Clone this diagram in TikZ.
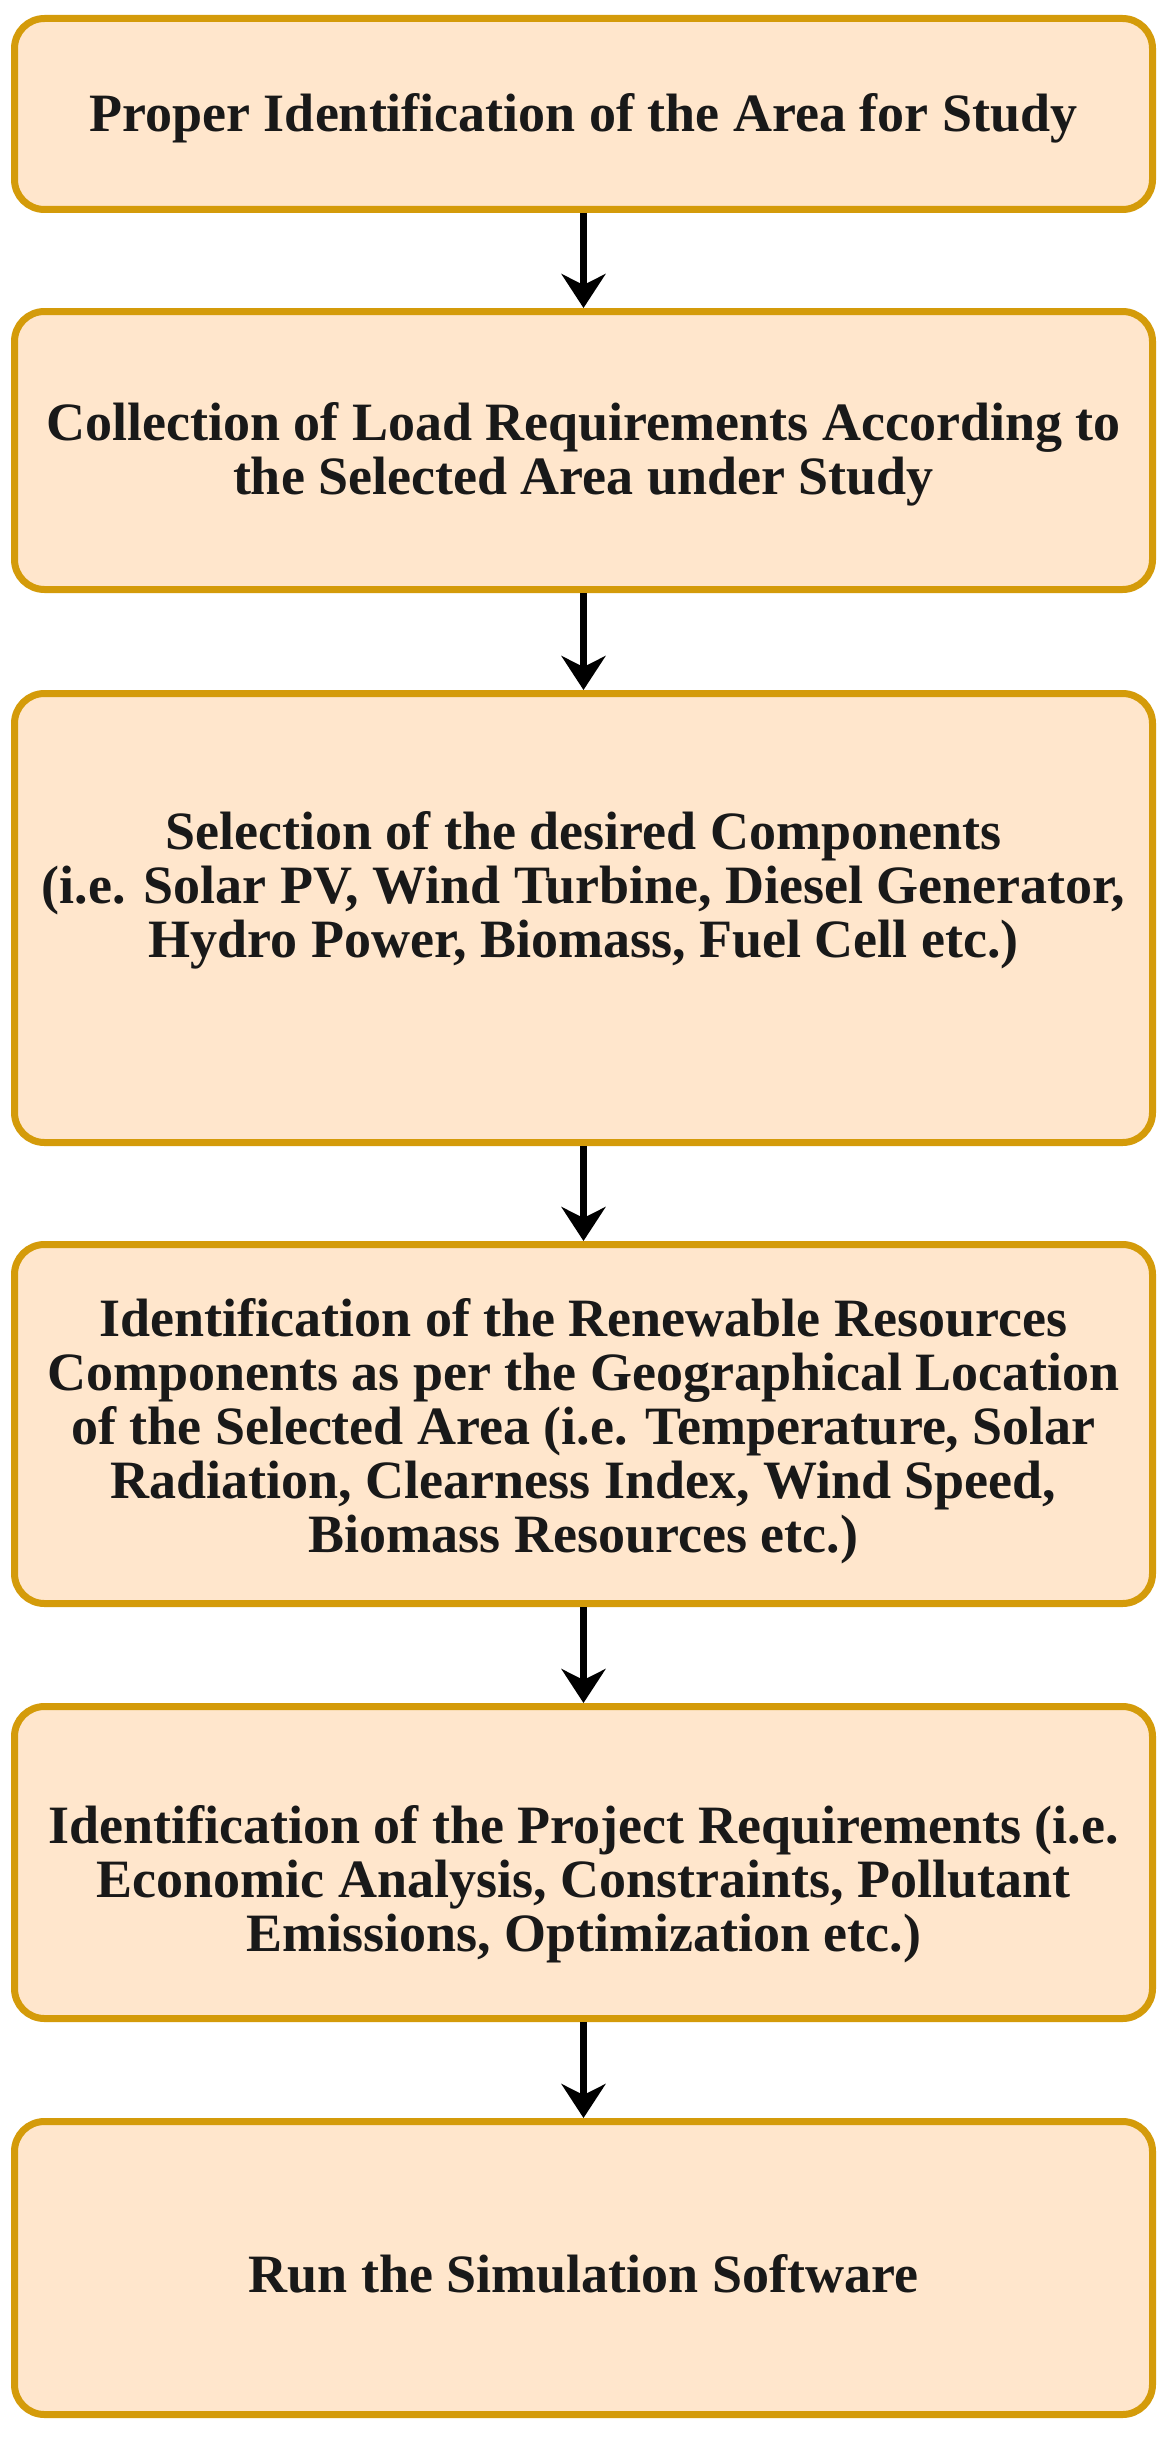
\documentclass[tikz,border=0pt]{standalone}
\usepackage{fontspec}
\setmainfont{Liberation Serif}
\usetikzlibrary{arrows.meta}
\definecolor{boxline}{HTML}{D49B0A}
\definecolor{boxfill}{HTML}{FFE6CC}
\begin{document}
\begin{tikzpicture}[x=1pt,y=-1pt,
  box/.style={draw=boxline, fill=boxfill, line width=7pt, rounded corners=30pt,
    minimum width=1138pt},
  txt/.style={align=center, text=black!90, inner sep=0pt,
    font=\fontsize{54}{54}\selectfont\bfseries},
  arr/.style={line width=7.5pt, -{Stealth[length=34pt,width=44pt,inset=11pt]}}]
\useasboundingbox (0,0) rectangle (1168,2440);
\fill[white] (0,0) rectangle (1168,2440);
\node[box, minimum height=191pt] (b1) at (583.5,114) {};
\node[box, minimum height=278pt] (b2) at (583.5,450.5) {};
\node[box, minimum height=449pt] (b3) at (583.5,918) {};
\node[box, minimum height=359pt] (b4) at (583.5,1424) {};
\node[box, minimum height=312pt] (b5) at (583.5,1862.5) {};
\node[box, minimum height=293pt] (b6) at (583.5,2268) {};
\node[txt] (t1) at ([yshift=-4pt]b1.center) {Proper Identification of the Area for Study};
\node[txt] (t2) at ([yshift=-4pt]b2.center) {Collection of Load Requirements According to\\the Selected Area under Study};
\node[txt] (t3) at ([yshift=28pt]b3.center) {Selection of the desired Components\\(i.e. Solar PV, Wind Turbine, Diesel Generator,\\Hydro Power, Biomass, Fuel Cell etc.)};
\node[txt] (t4) at ([yshift=-7pt]b4.center) {Identification of the Renewable Resources\\Components as per the Geographical Location\\of the Selected Area (i.e. Temperature, Solar\\Radiation, Clearness Index, Wind Speed,\\Biomass Resources etc.)};
\node[txt] (t5) at ([yshift=-22pt]b5.center) {Identification of the Project Requirements (i.e.\\Economic Analysis, Constraints, Pollutant\\Emissions, Optimization etc.)};
\node[txt] (t6) at ([yshift=-6pt]b6.center) {Run the Simulation Software};
\draw[arr] (b1.south) -- (b2.north);
\draw[arr] (b2.south) -- (b3.north);
\draw[arr] (b3.south) -- (b4.north);
\draw[arr] (b4.south) -- (b5.north);
\draw[arr] (b5.south) -- (b6.north);
\end{tikzpicture}
\end{document}
